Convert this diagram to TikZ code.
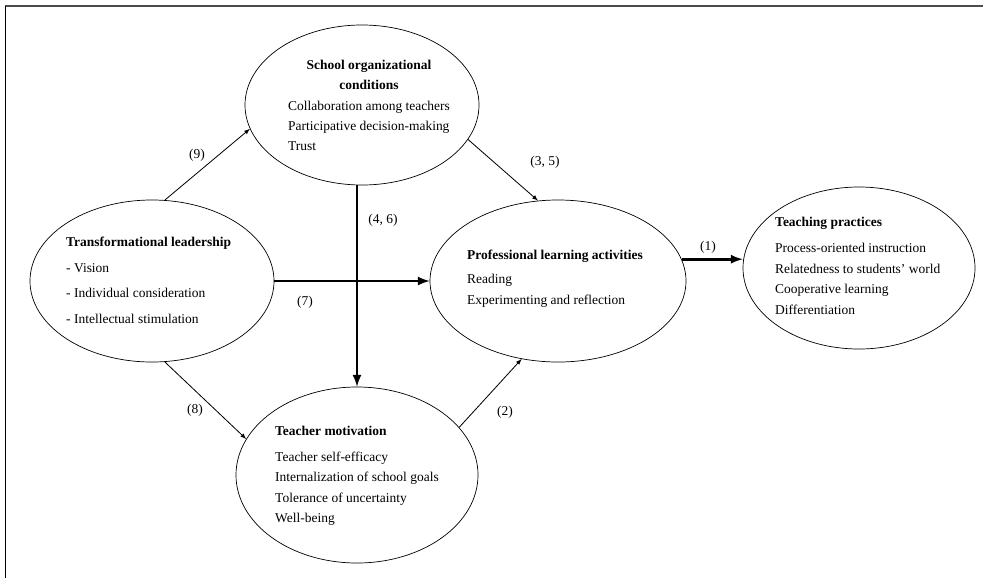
\documentclass[tikz,border=0pt]{standalone}
\usepackage{fontspec}
\setmainfont{Liberation Serif}
\usetikzlibrary{shapes.geometric}

\begin{document}
\begin{tikzpicture}[x=0.03cm, y=-0.03cm, >=latex]
	\tikzstyle{construct} = [draw, ellipse, line width=0.6pt, inner sep=0pt]
	\tikzstyle{txt} = [inner sep=0pt, font=\fontsize{11.5}{17.4}\selectfont]
	\tikzstyle{coef} = [inner sep=0pt, font=\fontsize{11.5}{13}\selectfont]
	\tikzstyle{link} = [->, line width=0.7pt]
	\tikzstyle{thicklink} = [->, line width=2.4pt]

	\useasboundingbox (0,0) rectangle (983,578);
	\coordinate (frame-tl) at (5,6);
	\coordinate (frame-tr) at (983,6);
	\coordinate (frame-bl) at (5,578);
	\draw [gray!60!black, line width=1.4pt] (frame-tl) -- (frame-tr);
	\draw [line width=0.6pt] (frame-tl) -- (frame-bl);

	% constructs
	\node [construct, minimum width=7.32cm, minimum height=4.86cm] (lead) at (152,281) {};
	\node [construct, minimum width=7.02cm, minimum height=4.80cm] (cond) at (362,105) {};
	\node [construct, minimum width=7.68cm, minimum height=4.86cm] (learn) at (558,281) {};
	\node [construct, minimum width=6.96cm, minimum height=4.86cm] (practice) at (859,268) {};
	\node [construct, minimum width=7.26cm, minimum height=5.28cm] (motiv) at (357,475) {};

	\node [txt, anchor=west] (lead-text) at (66,281) {%
	  \begin{tabular}{@{}l@{}}
	    \textbf{Transformational leadership}\\[4.6pt]
	    - Vision\\[4.6pt]
	    - Individual consideration\\[4.6pt]
	    - Intellectual stimulation
	  \end{tabular}
	};
	\node [txt] (cond-text) at (369,106) {%
	  \begin{tabular}{@{}l@{}}
	    \multicolumn{1}{@{}c@{}}{\textbf{School organizational}}\\
	    \multicolumn{1}{@{}c@{}}{\textbf{conditions}}\\
	    Collaboration among teachers\\
	    Participative decision-making\\
	    Trust
	  \end{tabular}
	};
	\node [txt, anchor=west] (learn-text) at (467,278) {%
	  \begin{tabular}{@{}l@{}}
	    \textbf{Professional learning activities}\\[3pt]
	    Reading\\
	    Experimenting and reflection
	  \end{tabular}
	};
	\node [txt, anchor=west] (practice-text) at (775,266) {%
	  \begin{tabular}{@{}l@{}}
	    \textbf{Teaching practices}\\[5.5pt]
	    Process-oriented instruction\\
	    Relatedness to students' world\\
	    Cooperative learning\\
	    Differentiation
	  \end{tabular}
	};
	\node [txt, anchor=west] (motiv-text) at (275,475) {%
	  \begin{tabular}{@{}l@{}}
	    \textbf{Teacher motivation}\\[4.6pt]
	    Teacher self-efficacy\\
	    Internalization of school goals\\
	    Tolerance of uncertainty\\
	    Well-being
	  \end{tabular}
	};

	% paths
	\draw [link] (lead.81) -- (cond.192);
	\draw [link] (lead.279) -- (motiv.162);
	\draw [thicklink] (lead.east) -- (learn.west);
	\draw [thicklink] (motiv.north |- cond.south) -- (motiv.north);
	\draw [link] (cond.-18) -- (learn.104.5);
	\draw [link] (motiv.25.6) -- (learn.245);
	\draw [thicklink] (learn.10) -- (practice.west |- learn.10);

	\node [coef] (c1) at (708,247) {(1)};
	\node [coef] (c2) at (505,412) {(2)};
	\node [coef] (c35) at (545,162) {(3, 5)};
	\node [coef] (c46) at (383,220) {(4, 6)};
	\node [coef] (c7) at (305,302) {(7)};
	\node [coef] (c8) at (195,410) {(8)};
	\node [coef] (c9) at (197,155) {(9)};
\end{tikzpicture}
\end{document}
